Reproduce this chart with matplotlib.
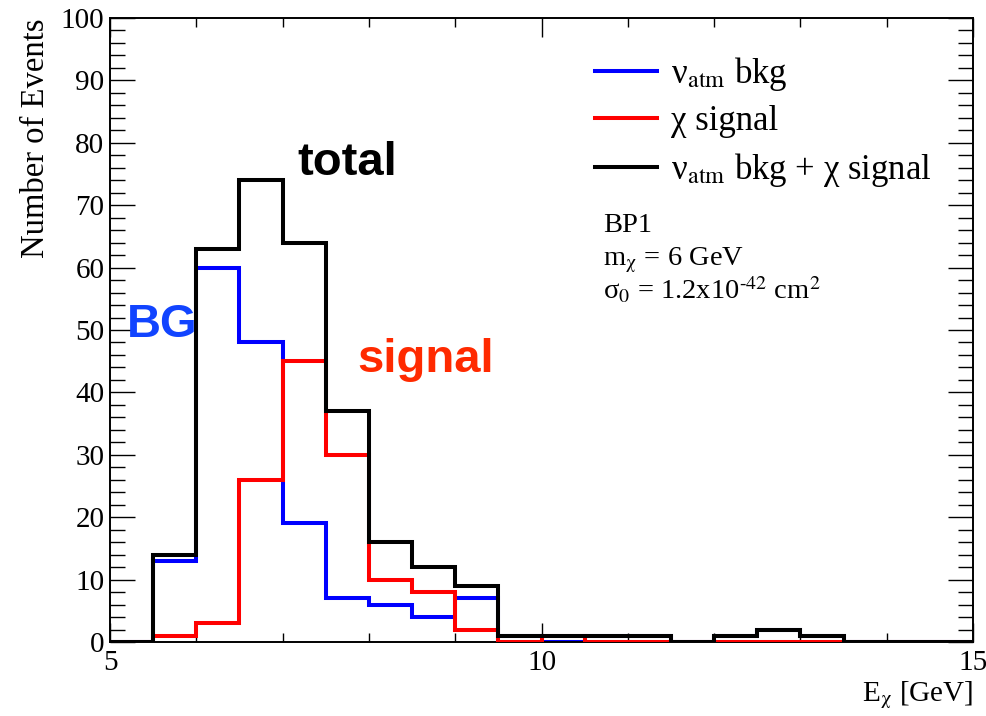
import numpy as np
import matplotlib
matplotlib.use("Agg")
import matplotlib.pyplot as plt
from matplotlib.ticker import MultipleLocator

# histogram contents, 0.5 GeV bins from 5 to 15 GeV
bin_edges = np.arange(5.0, 15.01, 0.5)
bkg = [0, 13, 60, 48, 19, 7, 6, 4, 7, 1, 0, 1, 1, 0, 1, 2, 1, 0, 0, 0]
sig = [0, 1, 3, 26, 45, 30, 10, 8, 2, 0, 1, 0, 0, 0, 0, 0, 0, 0, 0, 0]
total = [b + s for b, s in zip(bkg, sig)]

plt.rcParams['font.family'] = ['Liberation Serif', 'DejaVu Serif']
plt.rcParams['mathtext.fontset'] = 'stix'

fig = plt.figure(figsize=(9.87, 7.16), dpi=100)
ax = fig.add_axes([110/987, 74/716, 863/987, 624/716])

lw = 2.9
ax.stairs(bkg, bin_edges, color='#0000ff', lw=lw, baseline=0, label='ν$_{\\mathrm{atm}}$ bkg', zorder=2)
ax.stairs(sig, bin_edges, color='#ff0000', lw=lw, baseline=0, label='χ signal', zorder=3)
ax.stairs(total, bin_edges, color='black', lw=lw, baseline=0, label='ν$_{\\mathrm{atm}}$ bkg + χ signal', zorder=4)

ax.set_xlim(5, 15)
ax.set_ylim(0, 100)
ax.xaxis.set_major_locator(MultipleLocator(5))
ax.xaxis.set_minor_locator(MultipleLocator(1))
ax.yaxis.set_major_locator(MultipleLocator(10))
ax.yaxis.set_minor_locator(MultipleLocator(2))
ax.tick_params(which='both', direction='in', top=True, right=True, width=1.0, labelsize=21)
ax.tick_params(axis='y', which='major', length=18)
ax.tick_params(axis='y', which='minor', length=10.5)
ax.tick_params(axis='x', which='major', length=13.5)
ax.tick_params(axis='x', which='minor', length=6.5)
ax.tick_params(axis='x', which='major', pad=6)
ax.tick_params(axis='y', which='major', pad=4)
for s in ax.spines.values():
    s.set_linewidth(1.4)

ax.set_xlabel('E$_{\\mathrm{χ}}$ [GeV]', fontsize=21, loc='right', labelpad=2)
ax.set_ylabel('Number of Events', fontsize=23.5, loc='top', labelpad=7)

leg = ax.legend(loc='upper left', bbox_to_anchor=(595/987, 1 - 55/716), bbox_transform=fig.transFigure,
                frameon=False, fontsize=25, handlelength=1.8, handletextpad=0.4, labelspacing=0.36,
                borderaxespad=0, borderpad=0)

info = ['BP1', 'm$_{\\mathrm{χ}}$ = 6 GeV', 'σ$_{0}$ = 1.2x10$^{‐42}$ cm$^{2}$']
info_y = [232, 265, 299]
for t, yp in zip(info, info_y):
    ax.text(603/987, 1 - yp/716, t, fontsize=20.5, transform=fig.transFigure, va='baseline')

bold = dict(family='Liberation Sans', fontweight='bold', fontsize=34, va='baseline')
ax.text(7.17, 74.8, 'total', color='black', **bold)
ax.text(5.2, 48.9, 'BG', color='#1144ff', **bold)
ax.text(7.87, 43.2, 'signal', color='#ff2a00', **bold)

fig.savefig('out.png', dpi=100)
